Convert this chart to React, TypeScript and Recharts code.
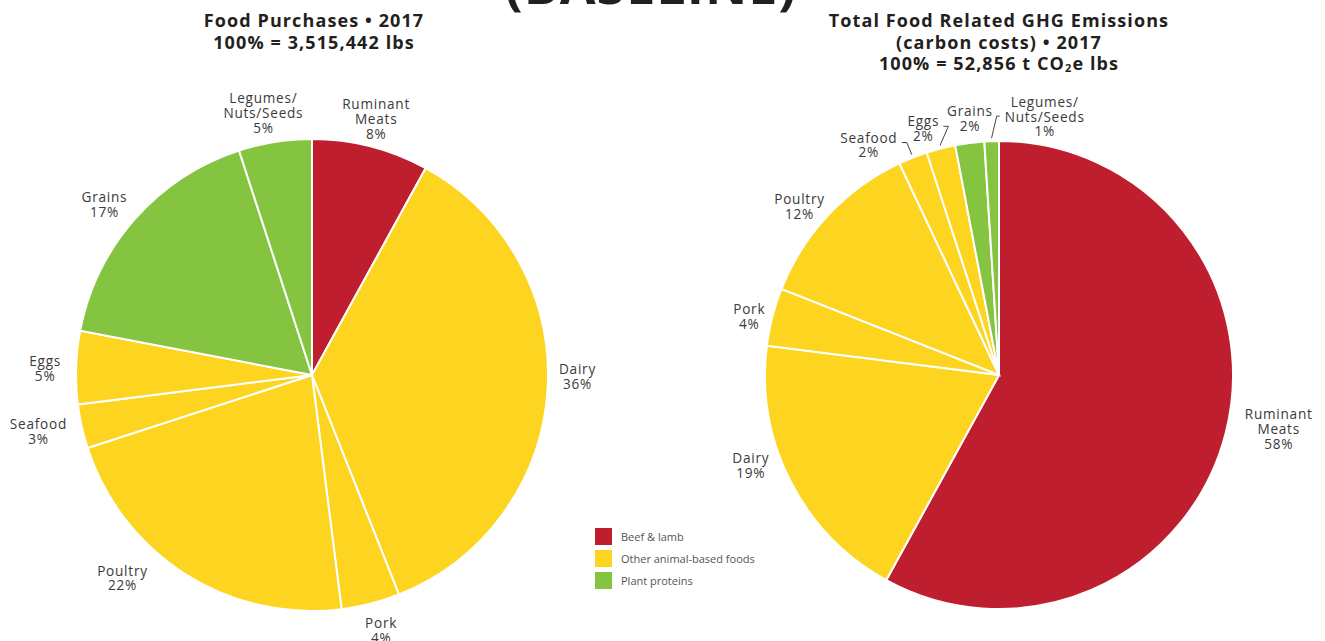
import { PieChart, Pie, Cell } from "recharts";

// categories + shares (%), clockwise from 12 o'clock
const purchaseNames = ["Ruminant\nMeats", "Dairy", "Pork", "Poultry", "Seafood", "Eggs", "Grains", "Legumes/\nNuts/Seeds"];
const purchaseValues = [8, 36, 4, 22, 3, 5, 17, 5];
const purchaseGroups = ["beef", "animal", "animal", "animal", "animal", "animal", "plant", "plant"];

const ghgNames = ["Ruminant\nMeats", "Dairy", "Pork", "Poultry", "Seafood", "Eggs", "Grains", "Legumes/\nNuts/Seeds"];
const ghgValues = [58, 19, 4, 12, 2, 2, 2, 1];
const ghgGroups = ["beef", "animal", "animal", "animal", "animal", "animal", "plant", "plant"];

const legendItems = [
  { key: "beef", label: "Beef & lamb" },
  { key: "animal", label: "Other animal-based foods" },
  { key: "plant", label: "Plant proteins" },
];

const COLORS: Record<string, string> = { beef: "#BE1E2D", animal: "#FDD41F", plant: "#85C441" };
const FONT = "'Open Sans', sans-serif";
const TEXT = "#3a3a3a";
const RAD = Math.PI / 180;
const LH = 14.8;

type LabelCfg = { dx?: number; dy?: number; leader?: { sx: number; sy: number; ex: number } };

const leftLabels: Record<string, LabelCfg> = {
  "Ruminant\nMeats": { dx: -2, dy: 1 },
  Dairy: { dx: 0, dy: -16 },
  Pork: { dx: 3, dy: -3 },
  Poultry: { dx: -47, dy: -22 },
  Seafood: { dx: -14, dy: -2 },
  Eggs: { dx: -1, dy: 1 },
  Grains: { dx: -8, dy: 5 },
  "Legumes/\nNuts/Seeds": { dx: -7, dy: 0 },
};

const rightLabels: Record<string, LabelCfg> = {
  "Ruminant\nMeats": { dx: 24, dy: -12 },
  Dairy: { dx: -13, dy: -30 },
  Pork: { dx: 6, dy: 7 },
  Poultry: { dx: -7, dy: 12 },
  Seafood: { dx: -33, dy: 15, leader: { sx: 33, sy: -2, ex: 5 } },
  Eggs: { dx: -10, dy: 9, leader: { sx: 20, sy: -2, ex: 5 } },
  Grains: { dx: 4, dy: 5 },
  "Legumes/\nNuts/Seeds": { dx: 54, dy: 5, leader: { sx: -45, sy: 0, ex: -3 } },
};

function makeLabel(cfg: Record<string, LabelCfg>) {
  return (p: any) => {
    const { cx, cy, midAngle, outerRadius, name, value } = p;
    const c = cfg[name] || {};
    const cos = Math.cos(-midAngle * RAD);
    const sin = Math.sin(-midAngle * RAD);
    const x = cx + (outerRadius + 30) * cos + (c.dx || 0);
    const y = cy + (outerRadius + 30) * sin + (c.dy || 0);
    const lines = [...String(name).split("\n"), `${value}%`];
    const top = y - ((lines.length - 1) * LH) / 2;
    let leader = null;
    if (c.leader) {
      const sx = x + c.leader.sx;
      const sy = y + c.leader.sy;
      const ex = sx + c.leader.ex;
      const px = cx + (outerRadius + 3) * cos;
      const py = cy + (outerRadius + 3) * sin;
      leader = (
        <polyline points={`${sx},${sy} ${ex},${sy} ${px},${py}`} fill="none" stroke="#444" strokeWidth={1} />
      );
    }
    return (
      <g>
        {leader}
        <text x={x} textAnchor="middle" fontFamily={FONT} fontSize={13.6} letterSpacing={0.75} fill={TEXT}>
          {lines.map((l, i) => (
            <tspan key={i} x={x} y={top + i * LH} dominantBaseline="central">
              {l}
            </tspan>
          ))}
        </text>
      </g>
    );
  };
}

const purchaseData = purchaseNames.map((name, i) => ({ name, value: purchaseValues[i], group: purchaseGroups[i] }));
const ghgData = ghgNames.map((name, i) => ({ name, value: ghgValues[i], group: ghgGroups[i] }));

const titleStyle: React.CSSProperties = {
  position: "absolute",
  fontFamily: FONT,
  fontWeight: 700,
  fontSize: 18,
  letterSpacing: 1.1,
  lineHeight: "21.5px",
  color: "#231F20",
  textAlign: "center",
  whiteSpace: "nowrap",
};

export default function App() {
  return (
    <div style={{ position: "absolute", left: 0, top: 0, width: 1325, height: 641, background: "#fff", overflow: "hidden" }}>
      <div
        style={{
          position: "absolute",
          left: 0,
          width: 1302,
          top: -46,
          textAlign: "center",
          fontFamily: FONT,
          fontWeight: 700,
          fontSize: 52,
          lineHeight: "60px",
          color: "#231F20",
          letterSpacing: 1,
        }}
      >
        (BASELINE)
      </div>
      <div style={{ ...titleStyle, left: 114, width: 400, top: 10 }}>
        Food Purchases • 2017
        <br />
        100% = 3,515,442 lbs
      </div>
      <div style={{ ...titleStyle, left: 799, width: 400, top: 10 }}>
        Total Food Related GHG Emissions
        <br />
        (carbon costs) • 2017
        <br />
        100% = 52,856 t CO<sub style={{ fontSize: 11, verticalAlign: "-2px" }}>2</sub>e lbs
      </div>

      <PieChart
        width={1325}
        height={641}
        margin={{ top: 0, right: 0, bottom: 0, left: 0 }}
        style={{ position: "absolute", left: 0, top: 0 }}
      >
        <Pie
          data={purchaseData}
          dataKey="value"
          nameKey="name"
          cx={312}
          cy={375}
          outerRadius={236}
          startAngle={90}
          endAngle={-270}
          stroke="#fff"
          strokeWidth={2}
          label={makeLabel(leftLabels)}
          labelLine={false}
          isAnimationActive={false}
        >
          {purchaseData.map((d, i) => (
            <Cell key={i} fill={COLORS[d.group]} />
          ))}
        </Pie>
        <Pie
          data={ghgData}
          dataKey="value"
          nameKey="name"
          cx={999}
          cy={375}
          outerRadius={234}
          startAngle={90}
          endAngle={-270}
          stroke="#fff"
          strokeWidth={2}
          label={makeLabel(rightLabels)}
          labelLine={false}
          isAnimationActive={false}
        >
          {ghgData.map((d, i) => (
            <Cell key={i} fill={COLORS[d.group]} />
          ))}
        </Pie>
      </PieChart>

      <div style={{ position: "absolute", left: 595, top: 528 }}>
        {legendItems.map((it) => (
          <div key={it.key} style={{ display: "flex", alignItems: "center", height: 17, marginBottom: 5 }}>
            <div style={{ width: 17, height: 17, background: COLORS[it.key], marginRight: 9 }} />
            <span style={{ fontFamily: FONT, fontSize: 11, color: "#555" }}>{it.label}</span>
          </div>
        ))}
      </div>
    </div>
  );
}
